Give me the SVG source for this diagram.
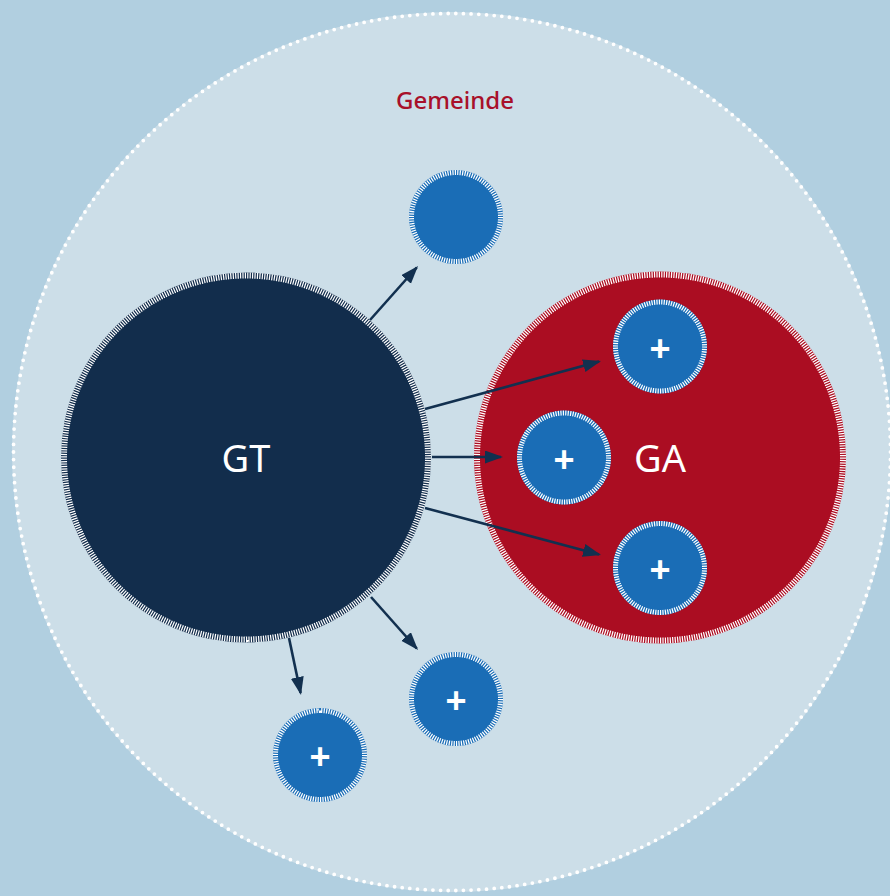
<svg xmlns="http://www.w3.org/2000/svg" width="890" height="896" viewBox="0 0 890 896">
<defs>
<style>
.tick{fill:none;stroke:#ffffff}
.big{stroke-width:6;stroke-dasharray:0.5 0.5}
.small{stroke-width:5;stroke-dasharray:0.5 0.5}
.sm{fill:#1a6db6}
.plus{font-family:"Liberation Sans",Arial,sans-serif;font-weight:bold;font-size:36px;fill:#ffffff;text-anchor:middle}
.lbl{font-family:"Noto Sans","Open Sans",sans-serif;font-size:38px;fill:#ffffff;text-anchor:middle}
.arr{stroke:#12304f;stroke-width:2.6;fill:none;marker-end:url(#ah)}
</style>
<marker id="ah" markerUnits="userSpaceOnUse" markerWidth="20" markerHeight="14" refX="16" refY="6.5" orient="auto">
<path d="M0,0 L18,6.5 L0,13 Z" fill="#12304f"/>
</marker>
</defs>
<rect width="890" height="896" fill="#b1cfe0"/>
<g id="gemeinde">
<circle cx="452" cy="452" r="440" fill="#ccdee8"/>
<circle cx="452" cy="452" r="438.5" fill="none" stroke="#ffffff" stroke-width="3.8" stroke-linecap="round" pathLength="358" stroke-dasharray="0 1"/>
<text x="455" y="109" font-family="Noto Sans, Open Sans, sans-serif" font-size="24" font-weight="500" fill="#a8102a" text-anchor="middle">Gemeinde</text>
</g>
<g id="gt">
<circle cx="246" cy="457.5" r="185" fill="#122d4c"/>
<circle class="tick big" cx="246" cy="457.5" r="182" pathLength="470"/>
<text class="lbl" x="246" y="472">GT</text>
</g>
<g id="ga">
<circle cx="660" cy="457.5" r="186" fill="#ab0d22"/>
<circle class="tick big" cx="660" cy="457.5" r="183" pathLength="470"/>
<text class="lbl" x="660" y="472">GA</text>
</g>
<g id="n1">
<circle class="sm" cx="456" cy="217" r="47"/>
<circle class="tick small" cx="456" cy="217" r="44.5" pathLength="114"/>
</g>
<g id="n2">
<circle class="sm" cx="660" cy="346.5" r="47"/>
<circle class="tick small" cx="660" cy="346.5" r="44.5" pathLength="114"/>
<text class="plus" x="660" y="360.5">+</text>
</g>
<g id="n3">
<circle class="sm" cx="564" cy="457.5" r="47"/>
<circle class="tick small" cx="564" cy="457.5" r="44.5" pathLength="114"/>
<text class="plus" x="564" y="471.5">+</text>
</g>
<g id="n4">
<circle class="sm" cx="660" cy="568" r="47"/>
<circle class="tick small" cx="660" cy="568" r="44.5" pathLength="114"/>
<text class="plus" x="660" y="582">+</text>
</g>
<g id="n5">
<circle class="sm" cx="456" cy="699" r="47"/>
<circle class="tick small" cx="456" cy="699" r="44.5" pathLength="114"/>
<text class="plus" x="456" y="713">+</text>
</g>
<g id="n6">
<circle class="sm" cx="320" cy="755" r="47"/>
<circle class="tick small" cx="320" cy="755" r="44.5" pathLength="114"/>
<text class="plus" x="320" y="769">+</text>
</g>
<g id="connectors">
<line class="arr" x1="370" y1="320" x2="416.7" y2="267.5"/>
<line class="arr" x1="425" y1="409" x2="599.1" y2="361.5"/>
<line class="arr" x1="432" y1="457" x2="501" y2="457"/>
<line class="arr" x1="425" y1="508" x2="599.1" y2="554.5"/>
<line class="arr" x1="371" y1="597" x2="416.7" y2="648.5"/>
<line class="arr" x1="289" y1="638" x2="300.6" y2="693"/>
</g>
</svg>
